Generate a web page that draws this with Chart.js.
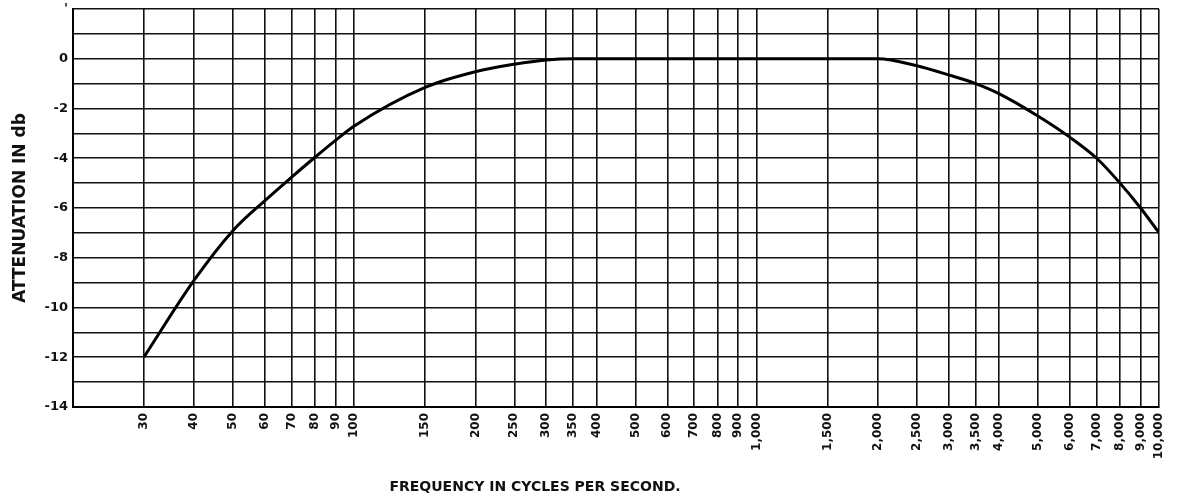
<!DOCTYPE html>
<html lang="en">
<head>
    <meta charset="UTF-8">
    <title>Attenuation vs frequency</title>
    <script src="https://cdn.jsdelivr.net/npm/chart.js"></script>
    <style>
        body { margin: 0; background: #fff; }
        #box { width: 1181px; height: 502px; }
    </style>
</head>
<body>
    <div id="box">
        <canvas id="myChart"></canvas>
    </div>

<script>
    // curve
    const frequencia = [30, 40, 50, 60, 70, 80, 90, 100, 150, 200, 250, 300, 350, 400, 500, 700, 1000, 1500, 2000, 2500, 3000, 3500, 4000, 5000, 6000, 7000, 8000, 9000, 10000]
    const atenuacao = [-12, -8.9, -6.9, -5.7, -4.75, -3.95, -3.27, -2.7, -1.15, -0.52, -0.22, -0.05, 0, 0, 0, 0, 0, 0, 0, -0.28, -0.65, -1.0, -1.4, -2.3, -3.15, -4.0, -5.0, -6.0, -7.0]

    // vertical grid lines / labels on the frequency axis
    const xTicks = [30, 40, 50, 60, 70, 80, 90, 100, 150, 200, 250, 300, 350, 400, 500, 600, 700, 800, 900, 1000, 1500, 2000, 2500, 3000, 3500, 4000, 5000, 6000, 7000, 8000, 9000, 10000]
    const yMin = -14
    const yMax = 2

    const pontos = frequencia.map((f, i) => ({ x: f, y: atenuacao[i] }))

    function formatar(v) {
        return v >= 1000 ? v.toLocaleString('en-US') : String(v)
    }

    // x title sits left of the plot centre in the original
    const tituloX = {
        id: 'tituloX',
        afterDraw(chart) {
            const ctx = chart.ctx
            ctx.save()
            ctx.font = 'bold 14px "DejaVu Sans"'
            ctx.fillStyle = '#111'
            ctx.textAlign = 'center'
            ctx.textBaseline = 'middle'
            ctx.fillText('FREQUENCY IN CYCLES PER SECOND.', 535, 487)
            ctx.restore()
        }
    }

    const ctx = document.getElementById('myChart')

    new Chart(ctx, {
        type: 'line',
        data: {
            datasets: [{
                data: pontos,
                borderColor: '#000',
                borderWidth: 3,
                pointRadius: 0,
                fill: false,
                cubicInterpolationMode: 'monotone'
            }]
        },
        options: {
            responsive: true,
            maintainAspectRatio: false,
            animation: false,
            layout: { padding: { top: 9, right: 22, left: 0, bottom: 0 } },
            plugins: {
                legend: { display: false },
                tooltip: { enabled: false }
            },
            scales: {
                x: {
                    type: 'logarithmic',
                    min: 20,
                    max: 10000,
                    afterBuildTicks: (scale) => {
                        scale.ticks = xTicks.map(v => ({ value: v }))
                    },
                    afterFit: (scale) => { scale.height = 95 },
                    grid: { color: '#111', lineWidth: 1.6, drawTicks: false },
                    border: { color: '#000', width: 2 },
                    ticks: {
                        autoSkip: false,
                        minRotation: 90,
                        maxRotation: 90,
                        padding: 6,
                        color: '#111',
                        font: { family: 'DejaVu Sans', weight: 'bold', size: 12 },
                        callback: (v) => formatar(v)
                    }
                },
                y: {
                    min: yMin,
                    max: yMax,
                    afterFit: (scale) => {
                        scale.width = 73
                        scale.paddingTop = 0
                        scale.paddingBottom = 0
                    },
                    grid: { color: '#111', lineWidth: 1.6, drawTicks: false },
                    border: { color: '#000', width: 2 },
                    ticks: {
                        stepSize: 1,
                        autoSkip: false,
                        padding: 5,
                        color: '#111',
                        font: { family: 'DejaVu Sans', weight: 'bold', size: 13, lineHeight: 1 },
                        callback: (v) => {
                            if (v === 2) return "'"
                            return v % 2 === 0 ? String(v) : ''
                        }
                    },
                    title: {
                        display: true,
                        text: 'ATTENUATION IN db',
                        color: '#111',
                        font: { family: 'DejaVu Sans', weight: 'bold', size: 17 },
                        padding: { top: 10, bottom: 0 }
                    }
                }
            }
        },
        plugins: [tituloX]
    })
</script>
</body>
</html>
